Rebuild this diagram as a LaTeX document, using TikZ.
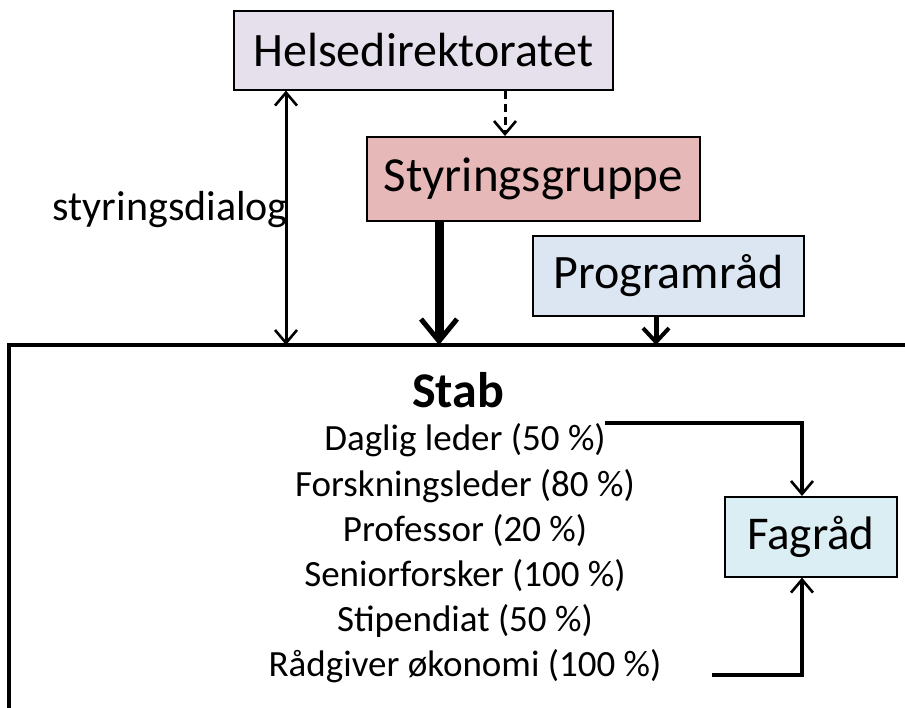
\documentclass[tikz,border=0pt]{standalone}
\usepackage{fontspec}
\setmainfont{Carlito}
\usetikzlibrary{arrows.meta}
\definecolor{helse}{HTML}{E5E0EC}
\definecolor{styr}{HTML}{E6B9B8}
\definecolor{prog}{HTML}{DCE6F2}
\definecolor{fag}{HTML}{DBEEF4}
\tikzset{barb/.tip={Straight Barb[length=13pt,width=22pt,line width=2.6pt]}}
\begin{document}
\begin{tikzpicture}[x=1pt,y=-1pt,
  box/.style={draw=black,line width=1.6pt,inner sep=0pt,anchor=north west},
  arr/.style={-barb,line width=3pt},
  item/.style={font=\fontsize{37}{40}\selectfont,anchor=center}]
\useasboundingbox (0,0) rectangle (905,708);
\clip (0,0) rectangle (905,708);
% Stab box
\draw[line width=3.5pt] (9,780) |- (930,345) coordinate (stabtopright);
\coordinate (stabA) at (286,345);
\coordinate (stabB) at (439,345);
\coordinate (stabC) at (656,345);
% boxes
\node[box,fill=helse,minimum width=379pt,minimum height=79pt] (helse) at (233,10) {};
\node[font=\fontsize{48}{52}\selectfont] at (helse.center) {Helsedirektoratet};
\node[box,fill=styr,minimum width=333pt,minimum height=84pt] (styr) at (366,136) {};
\node[font=\fontsize{49}{52}\selectfont] at (styr.center) {Styringsgruppe};
\node[box,fill=prog,minimum width=271pt,minimum height=80pt] (prog) at (532,235) {};
\node[font=\fontsize{48}{52}\selectfont] at (prog.center) {Programråd};
\node[box,fill=fag,minimum width=172pt,minimum height=80pt] (fag) at (724,496) {};
\node[font=\fontsize{47}{50}\selectfont] at (fag.center) {Fagråd};
% label
\node[font=\fontsize{42}{46}\selectfont,anchor=east,inner sep=0pt] (dialog) at (288,210) {styringsdialog};
% stab text
\node[font=\bfseries\fontsize{50}{54}\selectfont] (stab) at (458,390) {Stab};
\node[item] (l1) at (465,440) {Daglig leder (50 \%)};
\node[item] (l2) at (465,486) {Forskningsleder (80 \%)};
\node[item] (l3) at (465,531) {Professor (20 \%)};
\node[item] (l4) at (465,576) {Seniorforsker (100 \%)};
\node[item] (l5) at (465,621) {Stipendiat (50 \%)};
\node[item] (l6) at (465,666) {Rådgiver økonomi (100 \%)};
% connectors
\draw[barb-barb,line width=3pt] (helse.south -| stabA) -- (stabA);
\draw[arr,dash pattern=on 8pt off 5pt] (helse.south -| 505,0) -- (styr.north -| 505,0);
\draw[-{Straight Barb[length=22pt,width=36pt,line width=5pt]},line width=9pt] (styr.south -| stabB) -- (stabB);
\draw[-{Straight Barb[length=14pt,width=26pt,line width=4pt]},line width=5pt] (prog.south -| stabC) -- (stabC);
\coordinate (d1) at (605,423);
\coordinate (d2) at (712,675);
\draw[arr,line width=3.5pt] (d1) -| (802,0 |- fag.north);
\draw[arr,line width=3.5pt] (d2) -| (802,0 |- fag.south);
\end{tikzpicture}
\end{document}
